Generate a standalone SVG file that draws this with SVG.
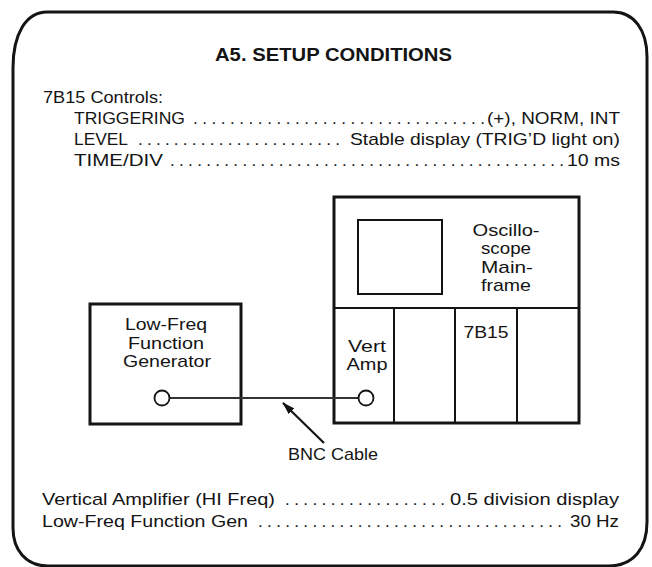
<svg xmlns="http://www.w3.org/2000/svg" width="652" height="567" viewBox="0 0 652 567">
<style>
  text { font-family: "Liberation Sans", Arial, sans-serif; font-size: 17px; fill: #141414; }
  .title { font-weight: bold; font-size: 19px; }
  .mid { text-anchor: middle; }
  .box { fill: none; stroke: #141414; stroke-width: 3; }
  .thin { fill: none; stroke: #141414; stroke-width: 2; }
  .jack { fill: #fff; stroke: #141414; stroke-width: 1.8; }
  .cable { stroke: #333; stroke-width: 2; fill: none; }
</style>
<defs>
  <marker id="arrow" viewBox="0 0 13 8" refX="12" refY="4" markerWidth="13" markerHeight="8" markerUnits="userSpaceOnUse" orient="auto">
    <path d="M0,0 L13,4 L0,8 Z" fill="#141414"/>
  </marker>
</defs>
<rect width="652" height="567" fill="#fff"/>

<g id="frame">
  <path d="M 47 12 L 613 12 C 634 12 647 30 647 57 L 647 522 C 647 548 634 566 608 566 L 48 566 C 26 566 13 550 13 528 L 13 68 C 13 34 26 12 47 12 Z" fill="none" stroke="#141414" stroke-width="3"/>
</g>

<g id="title">
  <text class="title" x="215" y="61" textLength="237" lengthAdjust="spacingAndGlyphs">A5. SETUP CONDITIONS</text>
</g>

<g id="controls">
  <text x="43" y="103" textLength="120" lengthAdjust="spacingAndGlyphs">7B15 Controls:</text>
  <text x="74" y="124" textLength="111" lengthAdjust="spacingAndGlyphs">TRIGGERING</text>
  <text x="193" y="124" textLength="292" lengthAdjust="spacing">................................</text>
  <text x="487" y="124" textLength="133" lengthAdjust="spacingAndGlyphs">(+), NORM, INT</text>
  <text x="74" y="145" textLength="54" lengthAdjust="spacingAndGlyphs">LEVEL</text>
  <text x="138" y="145" textLength="202" lengthAdjust="spacing">.......................</text>
  <text x="350" y="145" textLength="270" lengthAdjust="spacingAndGlyphs">Stable display (TRIG’D light on)</text>
  <text x="74" y="166" textLength="89" lengthAdjust="spacingAndGlyphs">TIME/DIV</text>
  <text x="170" y="166" textLength="394" lengthAdjust="spacing">............................................</text>
  <text x="567" y="166" textLength="53" lengthAdjust="spacingAndGlyphs">10 ms</text>
</g>

<g id="node-scope">
  <rect class="box" x="334" y="197" width="245" height="226"/>
  <rect class="thin" x="358" y="220" width="84" height="74"/>
  <line class="thin" x1="334" y1="308" x2="579" y2="308"/>
  <line class="thin" x1="394" y1="308" x2="394" y2="423"/>
  <line class="thin" x1="455" y1="308" x2="455" y2="423"/>
  <line class="thin" x1="517" y1="308" x2="517" y2="423"/>
  <text class="mid" x="506" y="236" textLength="67" lengthAdjust="spacingAndGlyphs">Oscillo-</text>
  <text class="mid" x="506" y="254" textLength="50" lengthAdjust="spacingAndGlyphs">scope</text>
  <text class="mid" x="507" y="273" textLength="52" lengthAdjust="spacingAndGlyphs">Main-</text>
  <text class="mid" x="506" y="291" textLength="50" lengthAdjust="spacingAndGlyphs">frame</text>
  <text class="mid" x="486" y="338" textLength="45" lengthAdjust="spacingAndGlyphs">7B15</text>
  <text class="mid" x="367" y="352" textLength="38" lengthAdjust="spacingAndGlyphs">Vert</text>
  <text class="mid" x="367" y="370" textLength="41" lengthAdjust="spacingAndGlyphs">Amp</text>
</g>

<g id="node-generator">
  <rect class="box" x="90" y="304" width="151" height="120"/>
  <text class="mid" x="166" y="330" textLength="82" lengthAdjust="spacingAndGlyphs">Low-Freq</text>
  <text class="mid" x="166" y="349" textLength="76" lengthAdjust="spacingAndGlyphs">Function</text>
  <text class="mid" x="167" y="367" textLength="88" lengthAdjust="spacingAndGlyphs">Generator</text>
</g>

<g id="connectors">
  <line class="cable" x1="170" y1="398" x2="358" y2="398"/>
  <line x1="324" y1="443" x2="283" y2="403" stroke="#141414" stroke-width="2.2" marker-end="url(#arrow)"/>
</g>

<g id="jacks">
  <circle class="jack" cx="162" cy="398" r="7.5"/>
  <circle class="jack" cx="366" cy="398" r="7.5"/>
</g>

<g id="label-bnc">
  <text x="288" y="460" textLength="90" lengthAdjust="spacingAndGlyphs">BNC Cable</text>
</g>

<g id="settings">
  <text x="42" y="505" textLength="233" lengthAdjust="spacingAndGlyphs">Vertical Amplifier (HI Freq)</text>
  <text x="285" y="505" textLength="160" lengthAdjust="spacing">..................</text>
  <text x="450" y="505" textLength="169" lengthAdjust="spacingAndGlyphs">0.5 division display</text>
  <text x="42" y="527" textLength="206" lengthAdjust="spacingAndGlyphs">Low-Freq Function Gen</text>
  <text x="258" y="527" textLength="304" lengthAdjust="spacing">..................................</text>
  <text x="570" y="527" textLength="49" lengthAdjust="spacingAndGlyphs">30 Hz</text>
</g>
</svg>
